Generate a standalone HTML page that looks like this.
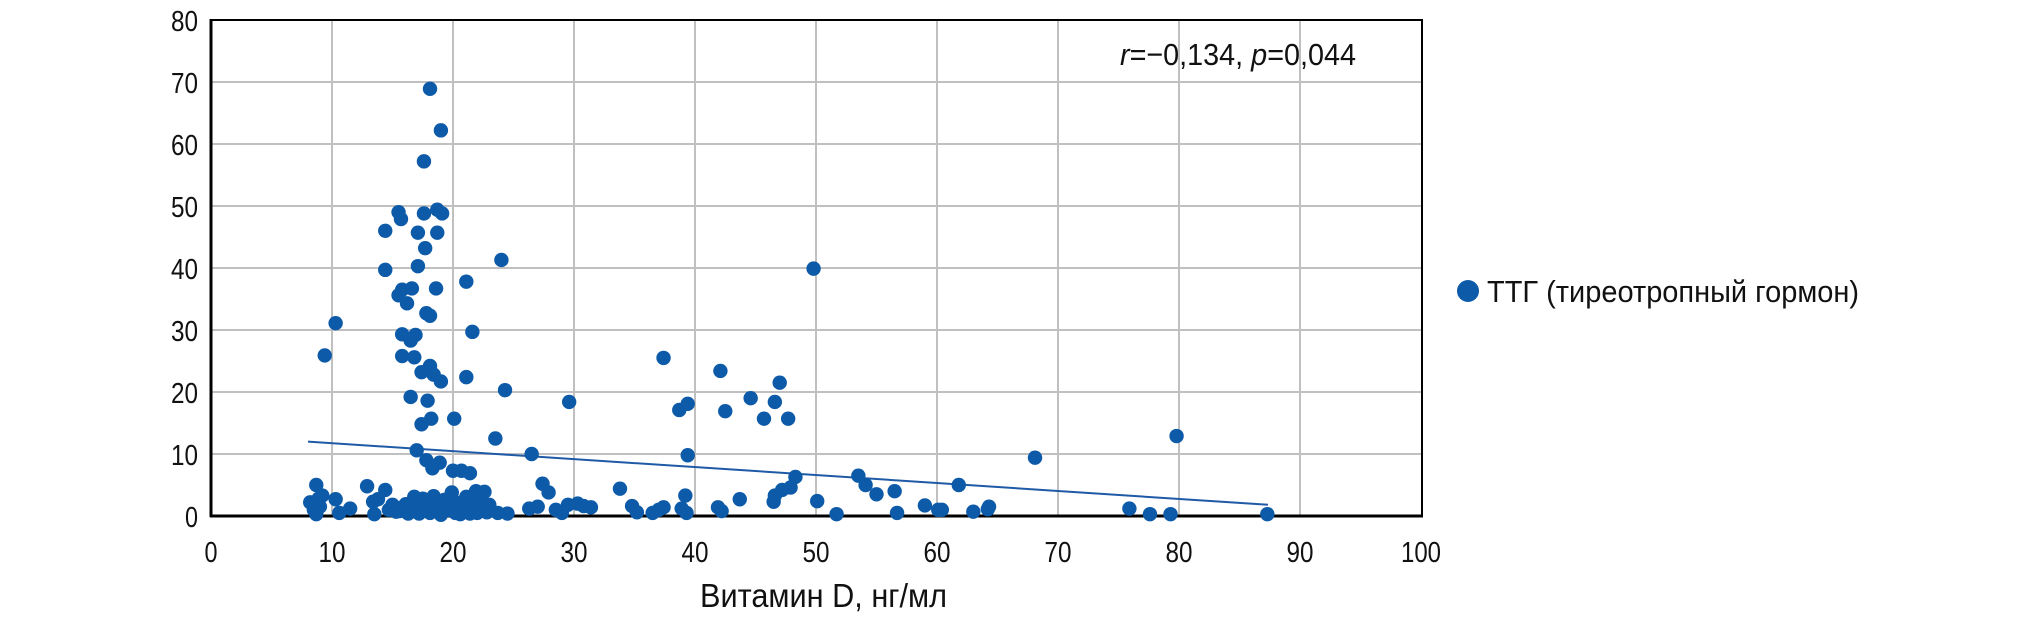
<!DOCTYPE html>
<html><head><meta charset="utf-8"><style>
html,body{margin:0;padding:0;background:#fff;}
svg{display:block;}
text{font-family:"Liberation Sans Narrow","Liberation Sans",sans-serif;fill:#111;}
</style></head><body>
<svg id="s" width="2020" height="617" xmlns="http://www.w3.org/2000/svg">
<g id="grid" stroke="#c0c0c0" stroke-width="2"></g>
<rect x="211" y="20" width="1211" height="496" fill="none" stroke="#000" stroke-width="2"/>
<line x1="210" y1="516" x2="1423" y2="516" stroke="#000" stroke-width="3"/>
<line x1="211" y1="19" x2="211" y2="517" stroke="#000" stroke-width="3"/>
<g id="lab" font-size="29"></g>
<line x1="308" y1="441.6" x2="1268" y2="504.8" stroke="#1f5aa6" stroke-width="2"/>
<g id="pts" fill="#0d5aa8"></g>
<text x="1120" y="65" font-size="31" textLength="236" lengthAdjust="spacingAndGlyphs"><tspan font-style="italic">r</tspan>=−0,134, <tspan font-style="italic">p</tspan>=0,044</text>
<circle cx="1468" cy="291" r="11" fill="#0d5aa8"/>
<text x="1487" y="302" font-size="31" textLength="372" lengthAdjust="spacingAndGlyphs">ТТГ (тиреотропный гормон)</text>
<text x="700" y="607" font-size="33" textLength="247" lengthAdjust="spacingAndGlyphs">Витамин D, нг/мл</text>
</svg>
<script>
var X=function(x){return 211+x*12.1},Y=function(y){return 516-y*6.2};
var ns="http://www.w3.org/2000/svg",g=document.getElementById('grid'),lab=document.getElementById('lab'),p=document.getElementById('pts');
function el(t,a,par,txt){var e=document.createElementNS(ns,t);for(var k in a)e.setAttribute(k,a[k]);if(txt!=null)e.textContent=txt;par.appendChild(e);}
function tl(s){return s.length==1?13:(s.length==2?27:40);}
for(var i=1;i<10;i++)el('line',{x1:X(i*10),y1:20,x2:X(i*10),y2:516},g);
for(var j=1;j<8;j++)el('line',{x1:211,y1:Y(j*10),x2:1421,y2:Y(j*10)},g);
for(var i=0;i<=10;i++){var s=String(i*10);el('text',{x:X(i*10)-tl(s)/2,y:562,textLength:tl(s),lengthAdjust:'spacingAndGlyphs'},lab,s);}
for(var j=0;j<=8;j++){var s=String(j*10);el('text',{x:198-tl(s),y:Y(j*10)+11,textLength:tl(s),lengthAdjust:'spacingAndGlyphs'},lab,s);}
var d=[[18.1,68.9],[19,62.2],[17.6,57.2],[15.5,49],[18.7,49.4],[17.6,48.8],[15.7,47.9],[19.1,48.8],[14.4,46],[17.1,45.7],[18.7,45.7],[17.7,43.2],[14.4,39.7],[17.1,40.3],[24,41.3],[15.8,36.5],[16.6,36.7],[15.5,35.6],[16.2,34.3],[18.6,36.7],[21.1,37.8],[17.8,32.7],[18.1,32.3],[10.3,31.1],[9.4,25.9],[15.8,29.3],[16.9,29.2],[16.5,28.3],[21.6,29.7],[15.8,25.8],[16.8,25.6],[18.1,24.2],[17.4,23.2],[18.4,22.8],[19,21.7],[21.1,22.4],[24.3,20.3],[16.5,19.2],[17.9,18.6],[20.1,15.7],[18.2,15.7],[17.4,14.8],[29.6,18.4],[37.4,25.5],[42.1,23.4],[38.7,17.1],[39.4,18.1],[44.6,19],[42.5,16.9],[47,21.5],[46.6,18.4],[45.7,15.7],[47.7,15.7],[49.8,39.9],[79.8,12.9],[68.1,9.4],[26.5,10],[39.4,9.8],[23.5,12.5],[17,10.6],[17.8,9],[18.3,7.7],[18.9,8.6],[20,7.3],[20.7,7.3],[21.4,6.9],[48.3,6.3],[53.5,6.5],[54.1,5],[55,3.5],[61.8,5],[56.5,4],[47.9,4.6],[47.2,4.2],[46.6,3.3],[46.5,2.3],[43.7,2.7],[39.2,3.3],[33.8,4.4],[27.4,5.2],[27.9,3.8],[12.9,4.8],[14.4,4.2],[13.4,2.3],[8.7,5],
[8.2,2.2],[8.5,1],[8.7,0.3],[9,1.5],[8.9,2.8],[9.2,3.3],[10.3,2.7],[10.6,0.5],[11.5,1.2],[13.5,0.3],[13.8,2.7],[15,1.8],[15.3,0.7],[15.9,1.5],[16.3,0.4],[16.6,2.2],[16.9,1.2],[17.2,0.4],[17.5,2.8],[17.8,1.6],[18.1,0.5],[18.4,3.2],[18.7,1.4],[19,0.2],[19.3,2.6],[19.6,1],[19.9,3.8],[20.2,0.5],[20.5,2.1],[20.8,1],[21.1,3.1],[21.4,0.4],[21.7,2.4],[21.9,4],[22.2,3.3],[22.5,1.1],[22.8,0.6],[23.7,0.5],[24.5,0.4],[26.3,1.2],[27,1.5],[28.5,1],[29,0.5],[29.5,1.8],[30.3,2],[30.8,1.6],[31.4,1.4],[34.8,1.6],[35.2,0.6],[36.5,0.5],[37,1],[37.4,1.4],[38.9,1.2],[39.3,0.5],[41.9,1.4],[42.2,0.8],[50.1,2.4],[51.7,0.3],[56.7,0.5],[59,1.7],[60.1,1],[60.4,1],[63,0.7],[64.2,1.1],[64.3,1.5],[75.9,1.2],[77.6,0.3],[79.3,0.3],[87.3,0.3],
[15.6,0.8],[16.1,1.9],[17,0.9],[17.9,2.4],[18.6,0.9],[19.4,1.7],[20.6,0.3],[21.3,1.8],[22,0.5],[14.7,1],[16.8,3.1],[19.8,2.7],[23,1.8],[22.6,3.9]];
d.forEach(function(q){el('circle',{cx:X(q[0]),cy:Y(q[1]),r:7.2},p);});
</script>
</body></html>
